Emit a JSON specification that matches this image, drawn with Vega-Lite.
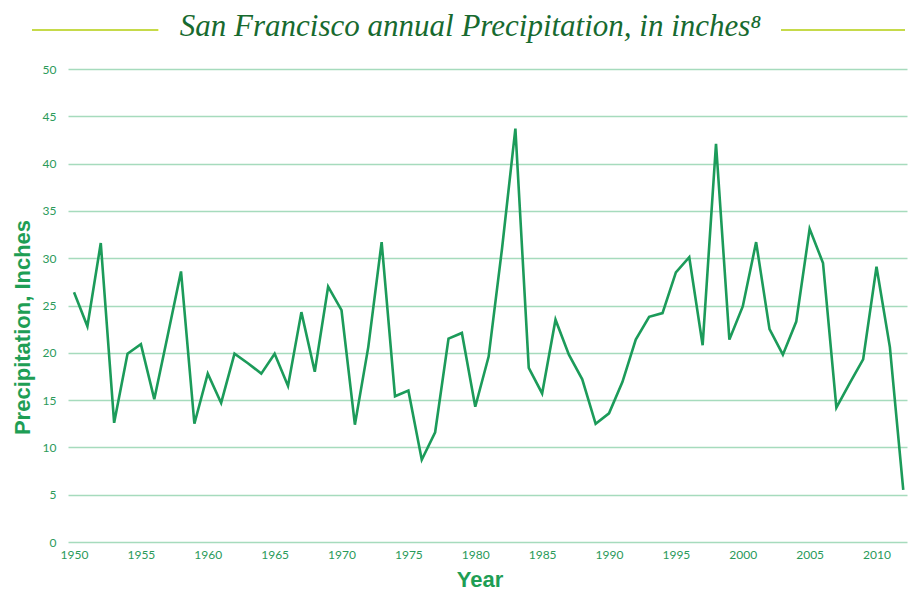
{
  "$schema": "https://vega.github.io/schema/vega-lite/v6.json",
  "width": 839,
  "height": 473,
  "autosize": {"type": "none"},
  "padding": {"left": 68, "top": 69, "right": 8, "bottom": 50},
  "background": "white",
  "title": {
    "text": "San Francisco annual Precipitation, in inches⁸",
    "font": "Liberation Serif",
    "fontStyle": "italic",
    "fontWeight": "normal",
    "fontSize": 31,
    "color": "#176a2f",
    "anchor": "middle",
    "dx": -17,
    "offset": -14
  },
  "config": {"view": {"stroke": null}},
  "data": {
    "values": [
      {"year": 1950, "precip": 26.4}, {"year": 1951, "precip": 22.8}, {"year": 1952, "precip": 31.6},
      {"year": 1953, "precip": 12.6}, {"year": 1954, "precip": 19.9}, {"year": 1955, "precip": 20.9},
      {"year": 1956, "precip": 15.1}, {"year": 1957, "precip": 21.8}, {"year": 1958, "precip": 28.6},
      {"year": 1959, "precip": 12.5}, {"year": 1960, "precip": 17.8}, {"year": 1961, "precip": 14.7},
      {"year": 1962, "precip": 19.9}, {"year": 1963, "precip": 18.9}, {"year": 1964, "precip": 17.8},
      {"year": 1965, "precip": 19.9}, {"year": 1966, "precip": 16.5}, {"year": 1967, "precip": 24.3},
      {"year": 1968, "precip": 18.0}, {"year": 1969, "precip": 27.0}, {"year": 1970, "precip": 24.5},
      {"year": 1971, "precip": 12.4}, {"year": 1972, "precip": 20.6}, {"year": 1973, "precip": 31.7},
      {"year": 1974, "precip": 15.4}, {"year": 1975, "precip": 16.0}, {"year": 1976, "precip": 8.7},
      {"year": 1977, "precip": 11.6}, {"year": 1978, "precip": 21.5}, {"year": 1979, "precip": 22.1},
      {"year": 1980, "precip": 14.3}, {"year": 1981, "precip": 19.6}, {"year": 1982, "precip": 31.0},
      {"year": 1983, "precip": 43.7}, {"year": 1984, "precip": 18.4}, {"year": 1985, "precip": 15.7},
      {"year": 1986, "precip": 23.5}, {"year": 1987, "precip": 19.8}, {"year": 1988, "precip": 17.2},
      {"year": 1989, "precip": 12.5}, {"year": 1990, "precip": 13.6}, {"year": 1991, "precip": 16.9},
      {"year": 1992, "precip": 21.4}, {"year": 1993, "precip": 23.8}, {"year": 1994, "precip": 24.2},
      {"year": 1995, "precip": 28.5}, {"year": 1996, "precip": 30.1}, {"year": 1997, "precip": 20.8},
      {"year": 1998, "precip": 42.1}, {"year": 1999, "precip": 21.4}, {"year": 2000, "precip": 24.9},
      {"year": 2001, "precip": 31.7}, {"year": 2002, "precip": 22.5}, {"year": 2003, "precip": 19.8},
      {"year": 2004, "precip": 23.3}, {"year": 2005, "precip": 33.1}, {"year": 2006, "precip": 29.5},
      {"year": 2007, "precip": 14.2}, {"year": 2008, "precip": 16.8}, {"year": 2009, "precip": 19.3},
      {"year": 2010, "precip": 29.1}, {"year": 2011, "precip": 20.6}, {"year": 2012, "precip": 5.5}
    ]
  },
  "resolve": {"axis": {"x": "independent", "y": "independent"}},
  "layer": [
    {
      "mark": {"type": "line", "color": "#1c9b5a", "strokeWidth": 2.6, "strokeJoin": "miter"},
      "encoding": {
        "x": {
          "field": "year",
          "type": "quantitative",
          "scale": {"domain": [1949.55, 2012.28], "nice": false, "zero": false},
          "axis": {
            "values": [1950, 1955, 1960, 1965, 1970, 1975, 1980, 1985, 1990, 1995, 2000, 2005, 2010],
            "format": "d",
            "grid": false,
            "domain": false,
            "ticks": false,
            "labelFont": "Lato",
            "labelFontSize": 12,
            "labelColor": "#2a9a5a",
            "labelPadding": 7,
            "title": "Year",
            "titleFont": "Liberation Sans",
            "titleFontWeight": "bold",
            "titleFontSize": 22,
            "titleColor": "#1e9e55",
            "titlePadding": 9,
            "titleX": 411.5
          }
        },
        "y": {
          "field": "precip",
          "type": "quantitative",
          "scale": {"domain": [0, 50], "nice": false},
          "axis": {
            "values": [0, 5, 10, 15, 20, 25, 30, 35, 40, 45, 50],
            "grid": true,
            "gridColor": "#a6dbbd",
            "gridWidth": 1.6,
            "domain": false,
            "ticks": false,
            "labelFont": "Lato",
            "labelFontSize": 12,
            "labelColor": "#2a9a5a",
            "labelPadding": 12,
            "title": "Precipitation, Inches",
            "titleFont": "Liberation Sans",
            "titleFontWeight": "bold",
            "titleFontSize": 22,
            "titleColor": "#1e9e55",
            "titlePadding": 8,
            "titleY": 258
          }
        }
      }
    },
    {
      "mark": {"type": "rule", "color": "#c6da4a", "strokeWidth": 2},
      "encoding": {
        "x": {"datum": 1946.86, "type": "quantitative", "axis": null},
        "x2": {"datum": 1956.28},
        "y": {"datum": 54.12, "type": "quantitative", "axis": null}
      }
    },
    {
      "mark": {"type": "rule", "color": "#c6da4a", "strokeWidth": 2},
      "encoding": {
        "x": {"datum": 2002.9, "type": "quantitative", "axis": null},
        "x2": {"datum": 2012.1},
        "y": {"datum": 54.12, "type": "quantitative", "axis": null}
      }
    }
  ]
}
